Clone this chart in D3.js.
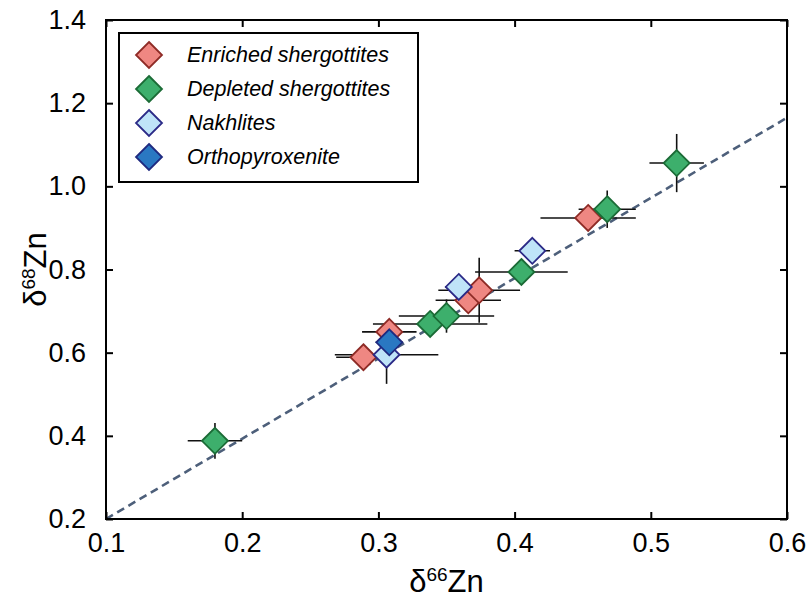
<!DOCTYPE html>
<html>
<head>
<meta charset="utf-8">
<script src="https://cdn.jsdelivr.net/npm/d3@7"></script>
<style>
  body { margin: 0; background: #fff; }
  svg { display: block; font-family: "Liberation Sans", Arial, sans-serif; }
</style>
</head>
<body>
<svg id="viz" width="810" height="603"></svg>
<script>
/* Data */

// group names (legend order)
const groups = ['Enriched shergottites', 'Depleted shergottites', 'Nakhlites', 'Orthopyroxenite'];

// delta66Zn, delta68Zn and their error bars, one array each per group
const enrichedX = [0.289, 0.308, 0.366, 0.374, 0.454];
const enrichedY = [0.589, 0.650, 0.726, 0.750, 0.924];
const enrichedEx = [0.020, 0.020, 0.024, 0.030, 0.035];
const enrichedEy = [0.020, 0.020, 0.020, 0.078, 0.020];

const depletedX = [0.180, 0.338, 0.350, 0.405, 0.468, 0.519];
const depletedY = [0.388, 0.669, 0.688, 0.794, 0.945, 1.056];
const depletedEx = [0.020, 0.042, 0.035, 0.034, 0.021, 0.020];
const depletedEy = [0.043, 0.020, 0.040, 0.030, 0.045, 0.070];

const nakhliteX = [0.306, 0.359, 0.413];
const nakhliteY = [0.595, 0.758, 0.845];
const nakhliteEx = [0.038, 0.010, 0.013];
const nakhliteEy = [0.070, 0.020, 0.030];

const orthoX = [0.308];
const orthoY = [0.625];
const orthoEx = [0.010];
const orthoEy = [0.020];

// mass-dependent fractionation line end points
const lineX = [0.1, 0.6];
const lineY = [0.2, 1.165];

// ticks
const xTicks = [0.1, 0.2, 0.3, 0.4, 0.5, 0.6];
const yTicks = [0.2, 0.4, 0.6, 0.8, 1.0, 1.2, 1.4];

/* Visualization */

const margin = { top: 20, right: 23, bottom: 84, left: 106 };
const width = 810 - margin.left - margin.right;
const height = 603 - margin.top - margin.bottom;

const svg = d3.select('#viz');
const g = svg.append('g').attr('transform', 'translate(' + margin.left + ',' + margin.top + ')');

const xScale = d3.scaleLinear().domain([0.1, 0.6]).range([0, width]);
const yScale = d3.scaleLinear().domain([0.2, 1.4]).range([height, 0]);

const styles = [
  { fill: '#ef8782', stroke: '#8e2b26' },
  { fill: '#3daf6c', stroke: '#1b6b36' },
  { fill: '#bfe4f8', stroke: '#2b2a87' },
  { fill: '#2a78c2', stroke: '#1f2a80' },
];

// build point list
const sets = [
  [enrichedX, enrichedY, enrichedEx, enrichedEy],
  [depletedX, depletedY, depletedEx, depletedEy],
  [nakhliteX, nakhliteY, nakhliteEx, nakhliteEy],
  [orthoX, orthoY, orthoEx, orthoEy],
];
const points = [];
sets.forEach((s, gi) => {
  s[0].forEach((x, i) => {
    points.push({ group: gi, x: x, y: s[1][i], ex: s[2][i], ey: s[3][i] });
  });
});

// fractionation line
g.append('line')
  .attr('x1', xScale(lineX[0]))
  .attr('y1', yScale(lineY[0]))
  .attr('x2', xScale(lineX[1]))
  .attr('y2', yScale(lineY[1]))
  .attr('stroke', '#4d5f7a')
  .attr('stroke-width', 2.6)
  .attr('stroke-dasharray', '8,5');

// error bars
const bars = g.append('g').attr('stroke', '#111').attr('stroke-width', 1.6);
bars.selectAll('line.h')
  .data(points)
  .join('line')
  .attr('class', 'h')
  .attr('x1', (d) => xScale(d.x - d.ex))
  .attr('x2', (d) => xScale(d.x + d.ex))
  .attr('y1', (d) => yScale(d.y))
  .attr('y2', (d) => yScale(d.y));
bars.selectAll('line.v')
  .data(points)
  .join('line')
  .attr('class', 'v')
  .attr('x1', (d) => xScale(d.x))
  .attr('x2', (d) => xScale(d.x))
  .attr('y1', (d) => yScale(d.y - d.ey))
  .attr('y2', (d) => yScale(d.y + d.ey));

// diamonds
const diamond = 'M0,-13L13,0L0,13L-13,0Z';
g.append('g')
  .selectAll('path')
  .data(points)
  .join('path')
  .attr('d', diamond)
  .attr('transform', (d) => 'translate(' + xScale(d.x) + ',' + yScale(d.y) + ')')
  .attr('fill', (d) => styles[d.group].fill)
  .attr('stroke', (d) => styles[d.group].stroke)
  .attr('stroke-width', 1.8);

// axes with inward ticks
const fmt = d3.format('.1f');
const xAxis = g.append('g')
  .attr('transform', 'translate(0,' + height + ')')
  .call(d3.axisBottom(xScale).tickValues(xTicks).tickFormat(fmt).tickSizeInner(-7).tickSizeOuter(0).tickPadding(14));
const yAxis = g.append('g')
  .call(d3.axisLeft(yScale).tickValues(yTicks).tickFormat(fmt).tickSizeInner(-7).tickSizeOuter(0).tickPadding(20));
g.append('g')
  .call(d3.axisTop(xScale).tickValues(xTicks).tickFormat('').tickSizeInner(-7).tickSizeOuter(0));
g.append('g')
  .attr('transform', 'translate(' + width + ',0)')
  .call(d3.axisRight(yScale).tickValues(yTicks).tickFormat('').tickSizeInner(-7).tickSizeOuter(0));

g.selectAll('.domain').remove();
g.selectAll('.tick line').attr('stroke', '#000').attr('stroke-width', 2);
[xAxis, yAxis].forEach((a) => a.selectAll('.tick text').attr('font-size', 27).attr('fill', '#000').attr('font-family', '"Liberation Sans", Arial, sans-serif'));

// frame
g.append('rect')
  .attr('width', width)
  .attr('height', height)
  .attr('fill', 'none')
  .attr('stroke', '#000')
  .attr('stroke-width', 2);

// axis titles
const xt = svg.append('text')
  .attr('x', margin.left + width / 2)
  .attr('y', 592)
  .attr('text-anchor', 'middle')
  .attr('font-size', 31);
xt.append('tspan').text('δ');
xt.append('tspan').attr('font-size', 19).attr('dy', -11).text('66');
xt.append('tspan').attr('dy', 11).text('Zn');

const yt = svg.append('text')
  .attr('transform', 'translate(46,' + (margin.top + height / 2) + ') rotate(-90)')
  .attr('text-anchor', 'middle')
  .attr('font-size', 31);
yt.append('tspan').text('δ');
yt.append('tspan').attr('font-size', 19).attr('dy', -11).text('68');
yt.append('tspan').attr('dy', 11).text('Zn');

// legend
const legend = svg.append('g').attr('transform', 'translate(119,33)');
legend.append('rect')
  .attr('width', 299)
  .attr('height', 149)
  .attr('fill', '#fff')
  .attr('stroke', '#000')
  .attr('stroke-width', 2);
const items = legend.selectAll('g.item')
  .data(groups)
  .join('g')
  .attr('class', 'item')
  .attr('transform', (_, i) => 'translate(30,' + (22 + i * 34) + ')');
items.append('path')
  .attr('d', diamond)
  .attr('fill', (_, i) => styles[i].fill)
  .attr('stroke', (_, i) => styles[i].stroke)
  .attr('stroke-width', 1.8);
items.append('text')
  .attr('x', 38)
  .attr('y', 7)
  .attr('font-size', 21.5)
  .attr('font-style', 'italic')
  .text((d) => d);
</script>
</body>
</html>
